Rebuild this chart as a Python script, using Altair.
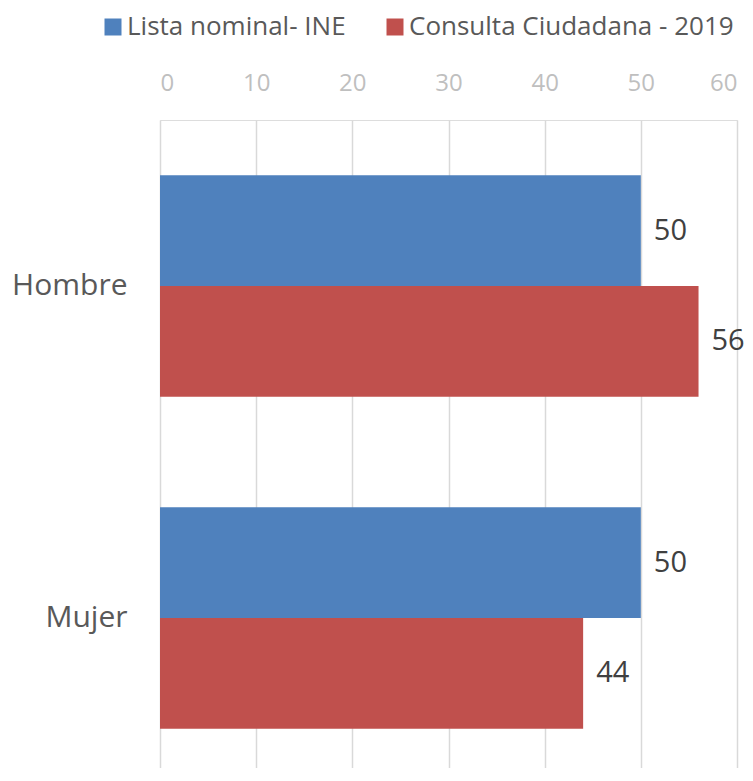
import altair as alt
import pandas as pd

categorias = ["Hombre", "Mujer"]
series = ["Lista nominal- INE", "Consulta Ciudadana -  2019"]
lista_nominal = [50, 50]
consulta = [56, 44]
colores = ["#4f81bd", "#c0504d"]
ticks_x = [0, 10, 20, 30, 40, 50, 60]

rows = []
for i, c in enumerate(categorias):
    rows.append({"categoria": c, "serie": series[0], "valor": lista_nominal[i]})
    rows.append({"categoria": c, "serie": series[1], "valor": consulta[i]})
df = pd.DataFrame(rows)

FONT = "Open Sans"

y_enc = alt.Y(
    "categoria:N",
    sort=categorias,
    title=None,
    scale=alt.Scale(paddingInner=1 / 3, paddingOuter=1 / 6, range=[0, 664]),
    axis=alt.Axis(
        labelFontSize=30,
        labelColor="#595959",
        labelFont=FONT,
        labelPadding=33,
        ticks=False,
        domain=False,
        grid=False,
    ),
)
yoff_enc = alt.YOffset(
    "serie:N", sort=series, scale=alt.Scale(paddingInner=0, paddingOuter=0)
)
x_enc = alt.X(
    "valor:Q",
    title=None,
    scale=alt.Scale(domain=[0, 60], nice=False),
    axis=alt.Axis(
        orient="top",
        values=ticks_x,
        labelFontSize=24,
        labelColor="#bfbfbf",
        labelFont=FONT,
        labelPadding=25,
        ticks=False,
        domain=False,
        grid=True,
        gridColor="#d9d9d9",
        gridWidth=1.5,
    ),
)

bars = (
    alt.Chart(df)
    .mark_bar()
    .encode(
        y=y_enc,
        yOffset=yoff_enc,
        x=x_enc,
        color=alt.Color(
            "serie:N",
            sort=series,
            scale=alt.Scale(domain=series, range=colores),
            legend=alt.Legend(
                title=None,
                orient="none",
                legendX=-60,
                legendY=-106,
                direction="horizontal",
                symbolType="square",
                symbolSize=289,
                symbolStrokeWidth=0,
                labelFontSize=26,
                labelFont=FONT,
                labelColor="#595959",
                labelOffset=1,
                columnPadding=36,
                labelLimit=500,
            ),
        ),
    )
)

labels = (
    alt.Chart(df)
    .mark_text(
        align="left",
        baseline="middle",
        dx=13,
        fontSize=29,
        font=FONT,
        color="#404040",
    )
    .encode(
        y=alt.Y("categoria:N", sort=categorias),
        yOffset=alt.YOffset("serie:N", sort=series),
        x=alt.X("valor:Q"),
        text=alt.Text("valor:Q"),
    )
)

chart = (
    alt.layer(bars, labels)
    .properties(
        width=577,
        height=648,
        padding={"left": 152, "top": 112, "right": 8, "bottom": 0},
        autosize=alt.AutoSizeParams(type="none"),
    )
    .configure_view(strokeWidth=0)
    .configure(background="white")
)

chart.save("out.html", embed_options={"renderer": "svg", "actions": False})
